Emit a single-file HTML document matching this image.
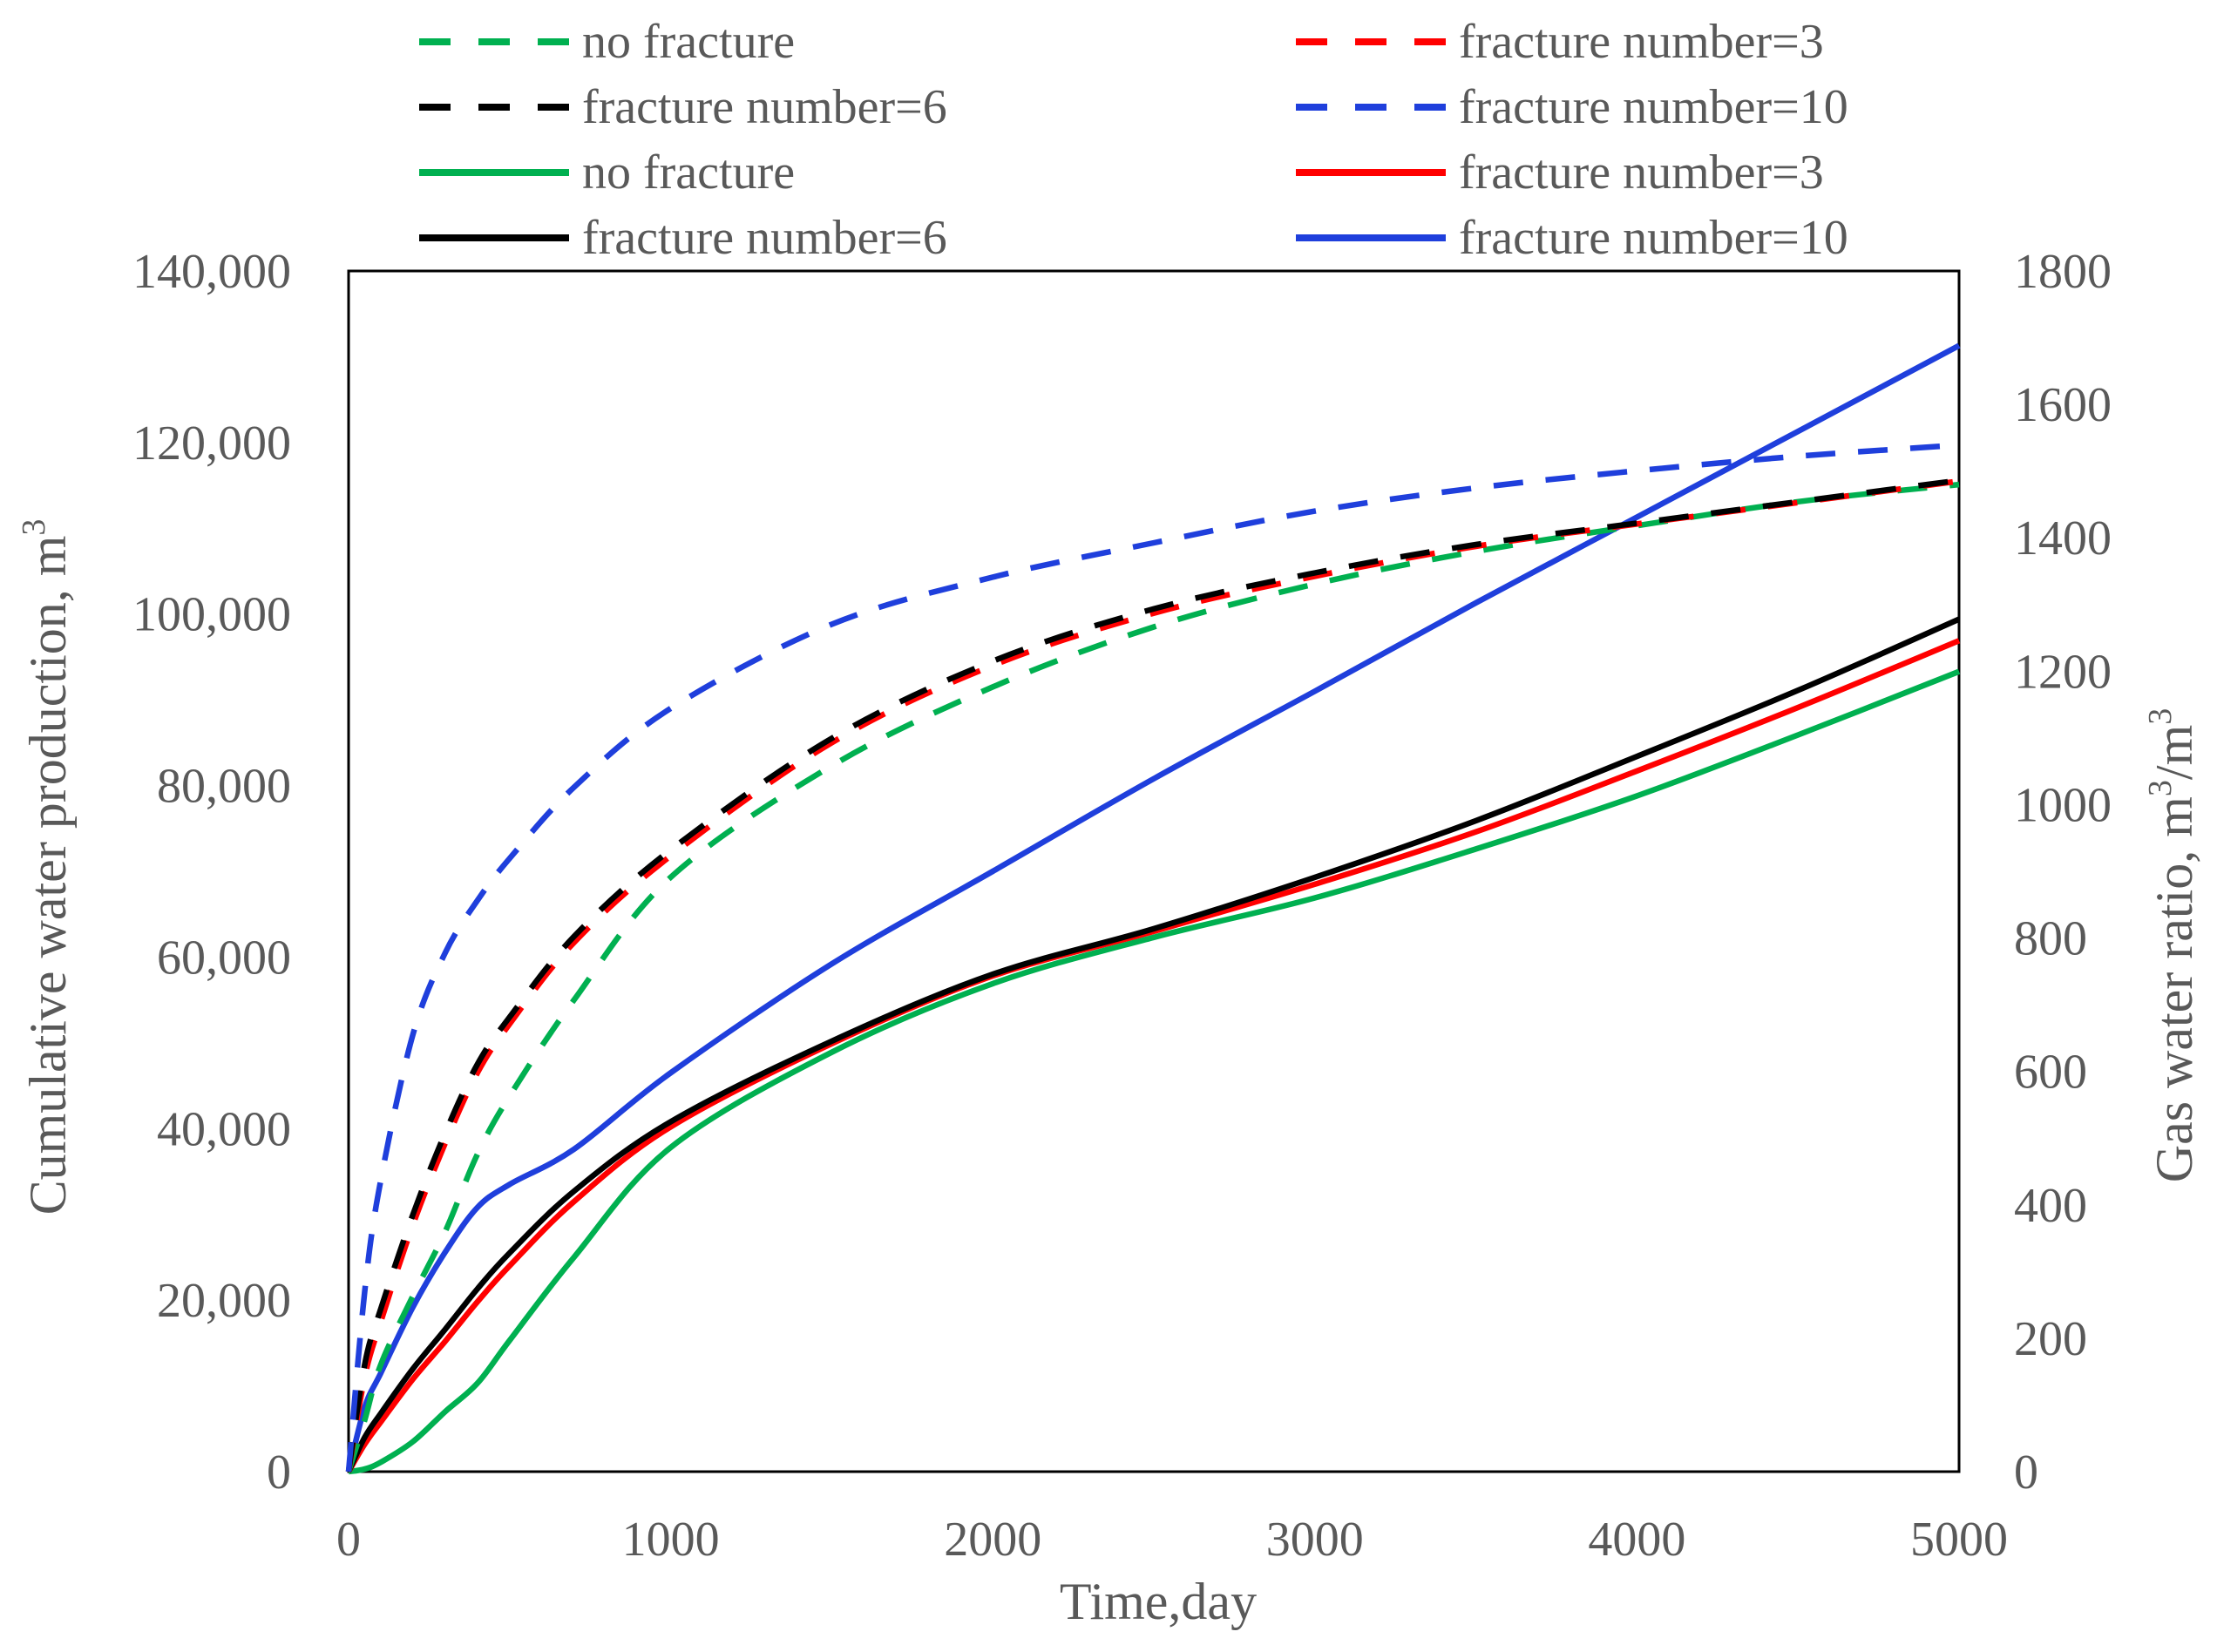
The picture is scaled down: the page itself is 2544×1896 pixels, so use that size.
<!DOCTYPE html>
<html><head><meta charset="utf-8"><style>
html,body{margin:0;padding:0;background:#fff;}
svg{display:block;font-family:"Liberation Serif",serif;}
</style></head><body>
<svg id="chart" width="2544" height="1896" viewBox="0 0 2544 1896">
<g id="legend"></g>
<rect x="400" y="311" width="1848" height="1378" fill="none" stroke="#000" stroke-width="3"/>
<g id="series"></g>
<g id="axes"></g>
<text x="1329" y="1858" font-size="60" fill="#595959" text-anchor="middle">Time,day</text>
<text transform="translate(75,995) rotate(-90)" font-size="60" fill="#595959" text-anchor="middle">Cumulative water production, m<tspan font-size="38" dy="-24">3</tspan></text>
<text transform="translate(2515,1085) rotate(-90)" font-size="60" fill="#595959" text-anchor="middle">Gas water ratio, m<tspan font-size="38" dy="-24">3</tspan><tspan dy="24">/m</tspan><tspan font-size="38" dy="-24">3</tspan></text>
</svg>
<script>
const NS="http://www.w3.org/2000/svg";
const xTicks=[0,1000,2000,3000,4000,5000];
const leftTicks=[0,20000,40000,60000,80000,100000,120000,140000];
const leftTickLabels=["0","20,000","40,000","60,000","80,000","100,000","120,000","140,000"];
const rightTicks=[0,200,400,600,800,1000,1200,1400,1600,1800];
const times=[0,50,100,200,300,400,500,700,1000,1500,2000,2500,3000,3500,4000,4500,5000];
// dashed series (cumulative water production, m3)
const dashBlue=[0,21000,34000,51000,60500,66600,71500,79800,89000,98800,104300,108300,112000,114700,116700,118400,119700];
const dashBlack=[0,12500,19000,30000,39500,47500,53000,62400,72500,85500,94500,100600,104800,108100,110600,113100,115600];
const dashRed=[0,11000,17500,28800,38300,46500,52200,61700,71800,85000,94000,100100,104400,107900,110500,113000,115500];
const dashGreen=[0,6000,12500,20500,28000,37000,43800,55000,69300,82300,91500,98500,103500,107300,110300,113100,115100];
// solid series (gas water ratio, drawn on shared scale, left-axis units)
const solidBlue=[0,7500,11500,19200,25600,30800,33500,37600,46500,59200,70000,80800,91000,101300,111300,121300,131300];
const solidBlack=[0,4000,6800,12000,16600,21300,25500,32700,40800,50200,58000,63300,69300,75900,83400,91100,99400];
const solidRed=[0,3200,5800,10800,15200,19800,24000,31500,40200,49900,57800,63000,68500,74600,81700,89100,96900];
const solidGreen=[0,300,1100,3500,7000,10300,15300,25000,37800,48900,56900,62300,66900,72600,78800,85900,93300];

const X0=400,X1=2248,Y0=1689,Y1=311;
const xs=t=>X0+(t/5000)*(X1-X0);
const ys=v=>Y0-(v/140000)*(Y0-Y1);
const yr=v=>Y0-(v/1800)*(Y0-Y1);

function path(vals){
  const p=times.map((t,i)=>[xs(t),ys(vals[i])]);
  let d="M"+p[0][0]+","+p[0][1];
  for(let i=0;i<p.length-1;i++){
    const a=p[Math.max(i-1,0)],b=p[i],c=p[i+1],e=p[Math.min(i+2,p.length-1)];
    const c1=[b[0]+(c[0]-a[0])/6,b[1]+(c[1]-a[1])/6];
    const c2=[c[0]-(e[0]-b[0])/6,c[1]-(e[1]-b[1])/6];
    d+=" C"+c1[0].toFixed(1)+","+c1[1].toFixed(1)+" "+c2[0].toFixed(1)+","+c2[1].toFixed(1)+" "+c[0].toFixed(1)+","+c[1].toFixed(1);
  }
  return d;
}
const sg=document.getElementById("series");
function addSeries(vals,color,dashed,name){
  const el=document.createElementNS(NS,"path");
  el.setAttribute("d",path(vals));
  el.setAttribute("fill","none");
  el.setAttribute("stroke",color);
  el.setAttribute("stroke-width","6.5");
  if(dashed)el.setAttribute("stroke-dasharray","34 26");
  
  
  sg.appendChild(el);
}
addSeries(solidGreen,"#00b050",false,"line-no-fracture-gwr");
addSeries(solidRed,"#ff0000",false,"line-fracture-3-gwr");
addSeries(solidBlack,"#000000",false,"line-fracture-6-gwr");
addSeries(solidBlue,"#1f3fdc",false,"line-fracture-10-gwr");
addSeries(dashGreen,"#00b050",true,"dash-no-fracture-water");
addSeries(dashRed,"#ff0000",true,"dash-fracture-3-water");
addSeries(dashBlack,"#000000",true,"dash-fracture-6-water");
addSeries(dashBlue,"#1f3fdc",true,"dash-fracture-10-water");

const ax=document.getElementById("axes");
function txt(x,y,s,anchor,name){
  const t=document.createElementNS(NS,"text");
  t.setAttribute("x",x);t.setAttribute("y",y);
  t.setAttribute("font-size","56");t.setAttribute("fill","#595959");
  t.setAttribute("text-anchor",anchor);
  t.textContent=s;
  
  
  ax.appendChild(t);
}
xTicks.forEach(v=>txt(xs(v),1785,String(v),"middle","x-tick-label"));
leftTicks.forEach((v,i)=>txt(334,ys(v)+19,leftTickLabels[i],"end","left-tick-label"));
rightTicks.forEach(v=>txt(2311,yr(v)+19,String(v),"start","right-tick-label"));

const lg=document.getElementById("legend");
const legendItems=[
 ["no fracture","#00b050",true,481,48],["fracture number=3","#ff0000",true,1487,48],
 ["fracture number=6","#000000",true,481,123],["fracture number=10","#1f3fdc",true,1487,123],
 ["no fracture","#00b050",false,481,198],["fracture number=3","#ff0000",false,1487,198],
 ["fracture number=6","#000000",false,481,273],["fracture number=10","#1f3fdc",false,1487,273]];
legendItems.forEach(it=>{
  const l=document.createElementNS(NS,"line");
  l.setAttribute("x1",it[3]);l.setAttribute("x2",it[3]+172);
  l.setAttribute("y1",it[4]);l.setAttribute("y2",it[4]);
  l.setAttribute("stroke",it[1]);l.setAttribute("stroke-width","8");
  if(it[2])l.setAttribute("stroke-dasharray","36 32");
  
  
  lg.appendChild(l);
  const t=document.createElementNS(NS,"text");
  t.setAttribute("x",it[3]+187);t.setAttribute("y",it[4]+18);
  t.setAttribute("font-size","56");t.setAttribute("fill","#595959");
  t.textContent=it[0];
  
  
  lg.appendChild(t);
});
</script>
</body></html>
